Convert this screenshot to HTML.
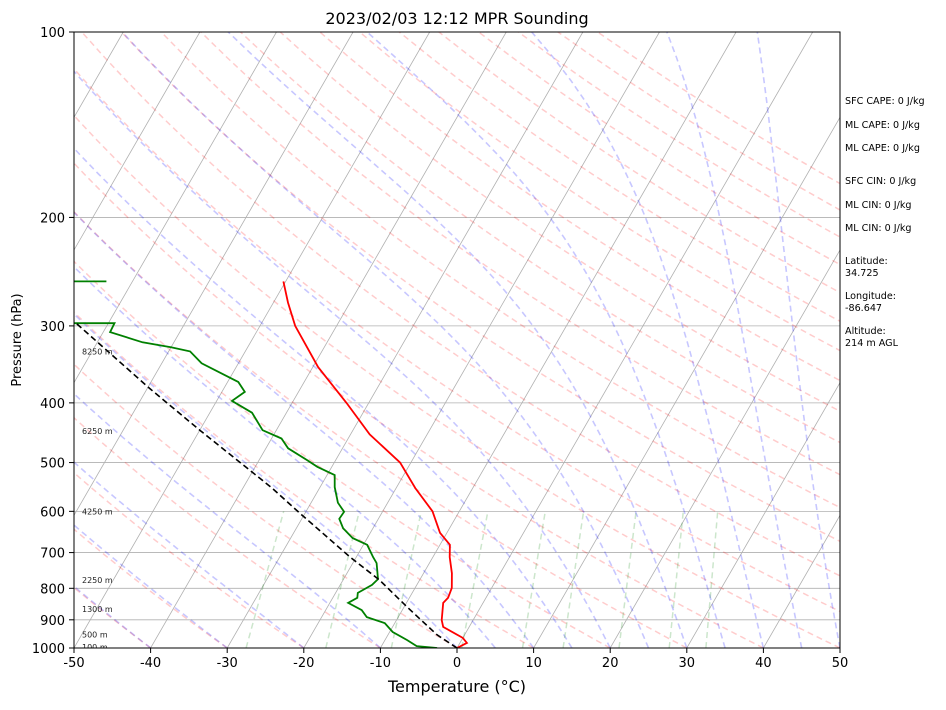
<!DOCTYPE html>
<html><head><meta charset="utf-8"><style>
body{margin:0;background:#fff;}
svg text{font-family:"DejaVu Sans","Liberation Sans",sans-serif;}
</style></head><body>
<svg id="chart" width="946" height="705" xmlns="http://www.w3.org/2000/svg">
<defs><clipPath id="pc"><rect x="74" y="32" width="766" height="616"/></clipPath></defs>
<rect width="946" height="705" fill="#fff"/>
<g id="bg" clip-path="url(#pc)"></g>
<g id="data" clip-path="url(#pc)"></g>
<rect x="74" y="32" width="766" height="616" fill="none" stroke="#000" stroke-width="1"/>
<g id="axes"></g>
<text x="457" y="24" text-anchor="middle" font-size="16">2023/02/03 12:12 MPR Sounding</text>
<text x="457" y="692" text-anchor="middle" font-size="16">Temperature (°C)</text>
<text transform="translate(21,340) rotate(-90)" text-anchor="middle" font-size="13">Pressure (hPa)</text>
<g font-size="9.6">
<text x="845" y="104">SFC CAPE: 0 J/kg</text>
<text x="845" y="128">ML CAPE: 0 J/kg</text>
<text x="845" y="151">ML CAPE: 0 J/kg</text>
<text x="845" y="184">SFC CIN: 0 J/kg</text>
<text x="845" y="208">ML CIN: 0 J/kg</text>
<text x="845" y="231">ML CIN: 0 J/kg</text>
<text x="845" y="264">Latitude:</text>
<text x="845" y="276">34.725</text>
<text x="845" y="299">Longitude:</text>
<text x="845" y="311">-86.647</text>
<text x="845" y="334">Altitude:</text>
<text x="845" y="346">214 m AGL</text>
</g>
</svg>
<script>
const xTicks=[-50,-40,-30,-20,-10,0,10,20,30,40,50];
const pTicks=[100,200,300,400,500,600,700,800,900,1000];
const tempP=[1000,981,963,924,901,845,829,799,756,712,680,650,600,550,500,450,400,350,300,275,254];
const tempT=[0.0,0.9,0.0,-3.4,-4.1,-5.2,-4.95,-5.2,-6.3,-7.8,-8.7,-10.9,-13.5,-17.5,-21.4,-27.5,-32.9,-39.3,-45.4,-48.1,-50.3];
const dewP=[1000,993,971,942,911,891,868,845,829,814,790,773,728,712,680,663,639,617,601,581,548,524,508,495,474,457,443,415,397,384,370,345,330,325,319,307,297,297,297,254,254,254];
const dewT=[-2.6,-5.4,-7.1,-9.6,-11.3,-14.1,-15.3,-17.6,-16.8,-17.1,-15.85,-15.5,-16.9,-17.8,-19.5,-21.9,-23.9,-25.1,-25.0,-26.5,-28.1,-29.0,-31.9,-33.8,-37.1,-38.7,-41.8,-44.5,-48.0,-47.0,-48.6,-54.8,-57.2,-60.0,-64.1,-69.1,-69.2,-74.4,-85,-85,-77.6,-73.4];
const parcelP=[1000,952,858,776,712,604,550,443,379,296,260];
const parcelT=[0.0,-3.6,-9.6,-15.2,-20.8,-30.7,-36.2,-50.0,-59.7,-74.4,-82];
const heightLabels=["100 m","500 m","1300 m","2250 m","4250 m","6250 m","8250 m"];
const heightP=[996,951,865,775,600,444,330];
const dryT0=[-50,-40,-30,-20,-10,0,10,20,30,40,50,60,70,80,90,100,110,120,130,140,150,160,170,180,190,200];
const moistT0=[-40,-30,-20,-10,0,5,10,15,20,25,30,35,40,45,50];
const mixW=[0.0004,0.001,0.002,0.004,0.007,0.01,0.016,0.024,0.032];

const NS="http://www.w3.org/2000/svg";
const X0=74,XW=766,YB=648,YH=616;
function yP(p){return YB-Math.log10(1000/p)*YH;}
function xT(T,p){return X0+(T+50)*XW/100+(YB-yP(p))*0.5774;}
function mk(tag,attrs,parent){const e=document.createElementNS(NS,tag);for(const k in attrs)e.setAttribute(k,attrs[k]);parent.appendChild(e);return e;}
function poly(ps,ts){return ps.map((p,i)=>xT(ts[i],p).toFixed(1)+","+yP(p).toFixed(1)).join(" ");}
const bg=document.getElementById('bg'),dg=document.getElementById('data'),ax=document.getElementById('axes');
for(let T=-160;T<=60;T+=10){const l=mk('line',{x1:xT(T,1000),y1:yP(1000),x2:xT(T,100),y2:yP(100),stroke:'#b0b0b0','stroke-width':0.8},bg);
}
pTicks.forEach(p=>{const l=mk('line',{x1:X0,y1:yP(p),x2:X0+XW,y2:yP(p),stroke:'#b0b0b0','stroke-width':0.8},bg);
});
const levels=[];for(let p=1000;p>=100;p-=10)levels.push(p);
dryT0.forEach(t0=>{const th=t0+273.15;const ts=levels.map(p=>th*Math.pow(p/1000,0.2857)-273.15);
const e=mk('polyline',{points:poly(levels,ts),fill:'none',stroke:'#ff0000','stroke-opacity':0.2,'stroke-width':1.5,'stroke-dasharray':'6,4'},bg);
});
function es(T){return 6.112*Math.exp(17.67*T/(T+243.5));}
function thetaE(Tk,p){const e=es(Tk-273.15);const r=0.622*e/Math.max(p-e,1e-3);return Tk*Math.pow(1000/p,0.2857)*Math.exp(2.501e6*r/(1005.7*Tk));}
moistT0.forEach(t0=>{const te=thetaE(t0+273.15,1000);const ts=levels.map(p=>{let lo=100,hi=t0+273.15+1;
for(let i=0;i<50;i++){const m=(lo+hi)/2;if(thetaE(m,p)>te)hi=m;else lo=m;}return (lo+hi)/2-273.15;});
const e=mk('polyline',{points:poly(levels,ts),fill:'none',stroke:'#0000ff','stroke-opacity':0.22,'stroke-width':1.6,'stroke-dasharray':'6,4'},bg);
});
mixW.forEach(w=>{const ps=[1000,600];const ts=ps.map(p=>{const e=p*w/(0.622+w);const l=Math.log(e/6.112);return 243.5*l/(17.67-l);});
const e=mk('polyline',{points:poly(ps,ts),fill:'none',stroke:'#008000','stroke-opacity':0.2,'stroke-width':1.5,'stroke-dasharray':'6,4'},bg);
});
const tl=mk('polyline',{points:poly(tempP,tempT),fill:'none',stroke:'#ff0000','stroke-width':1.8},dg);

const dl=mk('polyline',{points:poly(dewP,dewT),fill:'none',stroke:'#008000','stroke-width':1.8},dg);

const pl=mk('polyline',{points:poly(parcelP,parcelT),fill:'none',stroke:'#000','stroke-width':1.6,'stroke-dasharray':'6,3.5'},dg);

heightLabels.forEach((s,i)=>{const t=mk('text',{x:82,y:yP(heightP[i])+3,'font-size':8,fill:'#222'},dg);t.textContent=s;
});
xTicks.forEach(T=>{const x=X0+(T+50)*XW/100;
const l=mk('line',{x1:x,y1:YB,x2:x,y2:YB+5,stroke:'#000'},ax);
const t=mk('text',{x:x,y:YB+19,'text-anchor':'middle','font-size':13},ax);t.textContent=T;
});
pTicks.forEach(p=>{const y=yP(p);
const l=mk('line',{x1:X0-5,y1:y,x2:X0,y2:y,stroke:'#000'},ax);
const t=mk('text',{x:X0-9,y:y+5,'text-anchor':'end','font-size':13},ax);t.textContent=p;
});
</script>
</body></html>
